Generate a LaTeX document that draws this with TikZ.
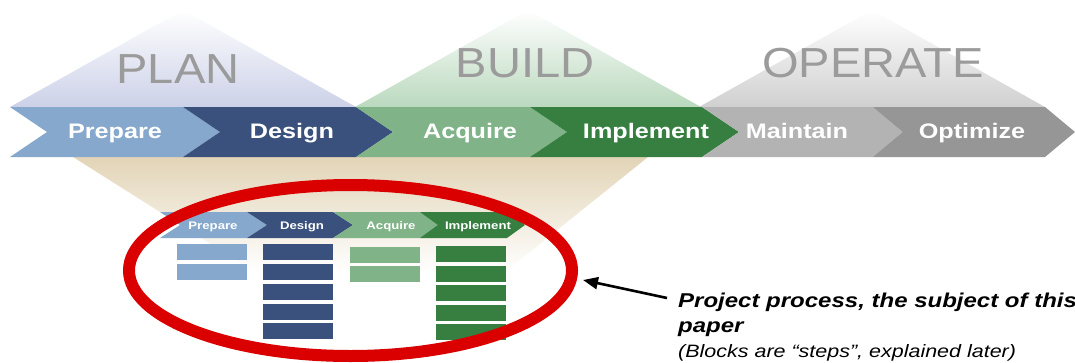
\documentclass[tikz,border=0pt]{standalone}
\usepackage{fontspec}
\setmainfont{Liberation Sans}
\newfontfamily\wsans[FakeStretch=1.2]{Liberation Sans}
\newfontfamily\tsans[FakeStretch=1.12]{Liberation Sans}
\usetikzlibrary{arrows.meta,shapes.geometric}
\definecolor{cPrep}{RGB}{134,168,204}
\definecolor{cDes}{RGB}{57,81,124}
\definecolor{cAcq}{RGB}{128,179,135}
\definecolor{cImp}{RGB}{54,127,65}
\definecolor{cMai}{RGB}{179,179,179}
\definecolor{cOpt}{RGB}{150,150,150}
\definecolor{cRing}{RGB}{218,0,0}
\definecolor{cTitle}{RGB}{155,155,155}
\definecolor{cBeige}{RGB}{226,212,182}
\newcommand{\chevshape}[5]{% x, width, top, bottom, depth
  (#1,#3) -- ++(#2,0) -- ({#1+#2+#5},{(#3+#4)/2}) -- ({#1+#2},#4) -- (#1,#4) -- ({#1+#5},{(#3+#4)/2}) -- cycle}
\tikzset{
  biglabel/.style={text=white, inner sep=0, anchor=base, font=\wsans\bfseries\fontsize{21}{21}\selectfont},
  smalllabel/.style={text=white, inner sep=0, anchor=base, font=\wsans\bfseries\fontsize{11}{11}\selectfont},
  titlelabel/.style={text=cTitle, inner sep=0, anchor=base, font=\tsans\fontsize{42}{42}\selectfont},
  calloutA/.style={inner sep=0, anchor=base west, font=\wsans\bfseries\itshape\fontsize{20}{20}\selectfont},
  calloutB/.style={inner sep=0, anchor=base west, font=\wsans\itshape\fontsize{17.9}{17.9}\selectfont},
  ringstyle/.style={draw=cRing, line width=12pt, ellipse, minimum width=443pt, minimum height=171pt, inner sep=0},
  pointer/.style={draw=black, line width=2.6pt, -{Triangle[length=15pt,width=12pt]}}
}
\begin{document}
\begin{tikzpicture}[x=1pt,y=-1pt]
\useasboundingbox (0,0) rectangle (1075,362);
% pyramids
\shade[top color=white, bottom color={rgb,255:red,204;green,209;blue,232}] (183,10) -- (356,107) -- (10,107) -- cycle;
\shade[top color=white, bottom color={rgb,255:red,186;green,217;blue,190}] (528,10) -- (701,107) -- (355,107) -- cycle;
\shade[top color=white, bottom color={rgb,255:red,208;green,208;blue,208}] (872,10) -- (1045,107) -- (699,107) -- cycle;
\node[titlelabel] (plan) at (178,83) {PLAN};
\node[titlelabel] (build) at (525,77) {BUILD};
\node[titlelabel] (operate) at (873,77) {OPERATE};
% beige funnel
\shade[top color=cBeige, bottom color=white] (73,157) -- (648,157) -- (505,272) -- (255,272) -- cycle;
% main chevrons
\fill[cPrep] \chevshape{10}{173}{107}{157}{37};
\fill[cDes] \chevshape{183}{173}{107}{157}{37};
\fill[cAcq] \chevshape{356}{174}{107}{157}{37};
\fill[cImp] \chevshape{530}{172}{107}{157}{37};
\fill[cMai] \chevshape{702}{171}{107}{157}{37};
\fill[cOpt] \chevshape{873}{172}{107}{157}{30};
\node[biglabel] (prepare) at (115,138) {Prepare};
\node[biglabel] (design) at (292,138) {Design};
\node[biglabel] (acquire) at (470,138) {Acquire};
\node[biglabel] (implement) at (646,138) {Implement};
\node[biglabel] (maintain) at (797,138) {Maintain};
\node[biglabel] (optimize) at (972,138) {Optimize};
% small chevrons
\fill[cPrep] \chevshape{160}{87}{212}{238}{20};
\fill[cDes] \chevshape{247}{86}{212}{238}{20};
\fill[cAcq] \chevshape{333}{87}{212}{238}{20};
\fill[cImp] \chevshape{420}{87}{212}{238}{18};
\node[smalllabel] (sprepare) at (213,229) {Prepare};
\node[smalllabel] (sdesign) at (302,229) {Design};
\node[smalllabel] (sacquire) at (391,229) {Acquire};
\node[smalllabel] (simplement) at (478,229) {Implement};
% step blocks
\fill[cPrep] (177,244) rectangle (247,260);
\fill[cPrep] (177,264) rectangle (247,280);
\foreach \y in {244,264,284,304,323} \fill[cDes] (263,\y) rectangle (333,\y+16);
\fill[cAcq] (350,247) rectangle (420,263);
\fill[cAcq] (350,266) rectangle (420,282);
\foreach \y in {246,266,285,305,324} \fill[cImp] (436,\y) rectangle (506,\y+16);
% ring
\node[ringstyle] (ring) at (350.5,270.5) {};
% callout
\coordinate (atail) at (667,298);
\coordinate (ahead) at (583,280);
\draw[pointer] (atail) -- (ahead);
\node[calloutA] (c1) at (678,307) {Project process, the subject of this};
\node[calloutA] (c2) at (678,332) {paper};
\node[calloutB] (c3) at (678,357) {(Blocks are “steps”, explained later)};
\end{tikzpicture}
\end{document}
